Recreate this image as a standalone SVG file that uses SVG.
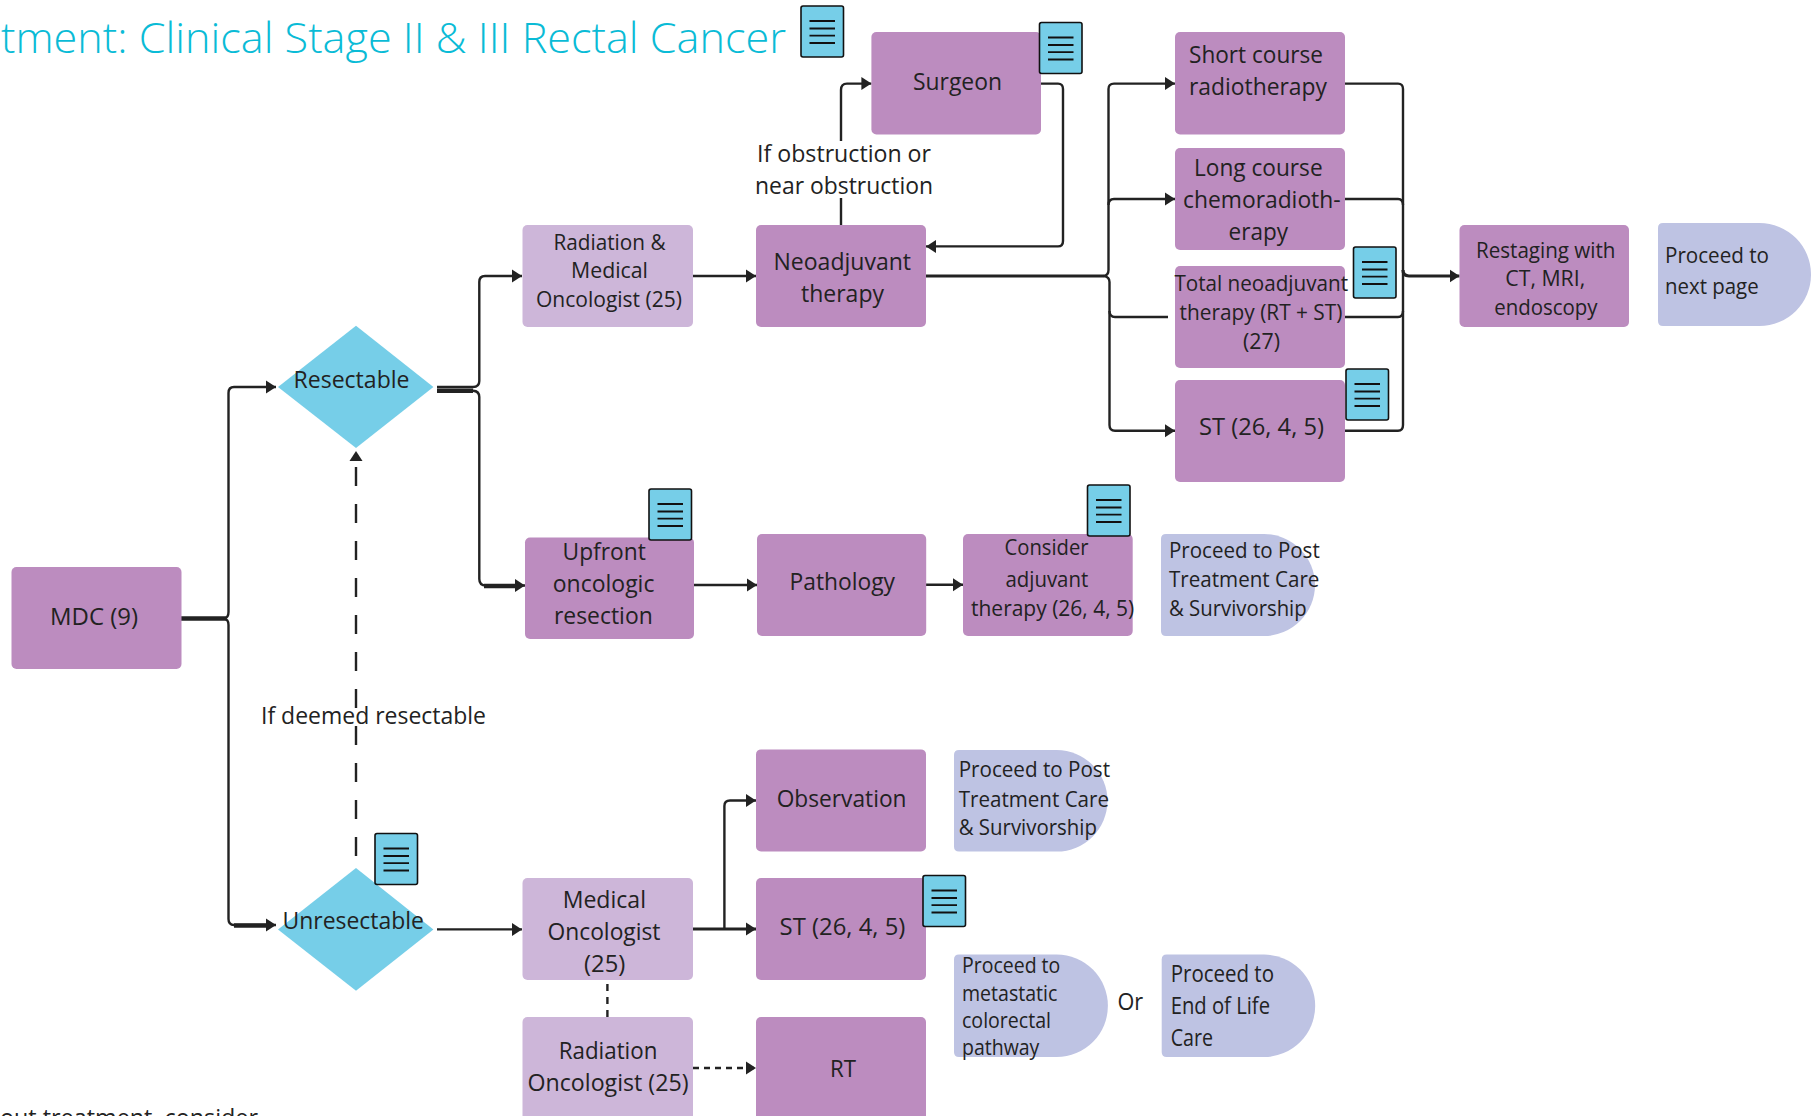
<svg xmlns="http://www.w3.org/2000/svg" xmlns:xlink="http://www.w3.org/1999/xlink" width="1813" height="1116" viewBox="0 0 1813 1116">
<style>
text{font-family:"Open Sans","Noto Sans","Liberation Sans",sans-serif;font-size:24px;fill:#222;}
.s{font-size:22px}
.title{font-size:42px;fill:#0ABBD6;font-weight:300}
.p{fill:#BC8CBF}
.l{fill:#CDB6D9}
.h{fill:#BEC3E3}
.d{fill:#76CEE8}
.c{fill:none;stroke:#222;stroke-width:2.4}
.t{fill:none;stroke:#222;stroke-width:4.5}
.ic{fill:#76CEE8;stroke:#111;stroke-width:1.6}
.il{stroke:#111;stroke-width:1.8;fill:none}
</style>
<defs>
<marker id="a" markerUnits="userSpaceOnUse" markerWidth="11" markerHeight="14" refX="10" refY="7" orient="auto"><path d="M0 0.500L10 7L0 13.500z" fill="#222"/></marker>
<g id="icon"><rect class="ic" x="0" y="0" width="42.500" height="51" rx="2"/><path class="il" d="M8.500 15H34M8.500 22.500H34M8.500 29.700H34M8.500 37H34"/></g>
</defs>
<g id="connectors">
<path class="t" d="M181 618.600H226"/>
<path class="c" d="M224 618.600Q228.500 618 228.500 612V393Q228.500 387 234 387H276" marker-end="url(#a)"/>
<path class="c" d="M224 618.600Q228.500 619 228.500 625V919Q228.500 925 234 925H276" marker-end="url(#a)"/>
<path class="t" d="M234 925.500H270"/>
<path class="c" d="M437 387H473Q479.300 387 479.300 381V282Q479.300 276 485 276H522" marker-end="url(#a)"/>
<path class="t" d="M437 390.700H473"/>
<path class="c" d="M470 390.700H473Q479.300 391 479.300 397V579Q479.300 585.500 486 585.500H525" marker-end="url(#a)"/>
<path class="t" d="M484 586H518"/>
<path class="c" d="M693 276H756" marker-end="url(#a)"/>
<path class="c" d="M841 225V198"/>
<path class="c" d="M841 141V90Q841 83.600 847 83.600H871.400" marker-end="url(#a)"/>
<path class="c" d="M1041 83.600H1058Q1063 83.600 1063 89V241Q1063 246.400 1058 246.400H926" marker-end="url(#a)"/>
<path class="c" d="M926 276H1104" style="stroke-width:3.200"/>
<path class="c" d="M1104 276Q1108.500 275 1108.500 270V89Q1108.500 83.600 1114 83.600H1175" marker-end="url(#a)"/>
<path class="c" d="M1108.500 205Q1108.500 199 1114 199H1175" marker-end="url(#a)"/>
<path class="c" d="M1104 276Q1109.500 277 1109.500 282V425Q1109.500 430.700 1115 430.700H1175" marker-end="url(#a)"/>
<path class="c" d="M1109.500 311Q1109.500 317 1115 317H1168"/>
<path class="c" d="M1345 83.600H1398Q1403 83.600 1403 89V425Q1403 430.700 1398 430.700H1345"/>
<path class="c" d="M1345 199H1398Q1403 199 1403 205"/>
<path class="c" d="M1345 317H1398Q1403 317 1403 311"/>
<path class="c" d="M1403 270Q1403 276 1409 276H1459.500" marker-end="url(#a)" style="stroke-width:3.200"/>
<path class="c" d="M694 585H757" marker-end="url(#a)"/>
<path class="c" d="M926 584.700H963" marker-end="url(#a)"/>
<path class="c" d="M437 929.400H522" marker-end="url(#a)"/>
<path class="c" d="M693 929H756" marker-end="url(#a)" style="stroke-width:3"/>
<path class="c" d="M724.400 929V806Q724.400 800.500 730 800.500H756" marker-end="url(#a)"/>
<path class="c" d="M607.400 984V1017" stroke-dasharray="7 6"/>
<path class="c" d="M693 1068H756" marker-end="url(#a)" stroke-dasharray="6 5"/>
<path class="c" d="M356 856V451" marker-end="url(#a)" stroke-dasharray="19 18"/>
</g>
<g id="title"><text class="title" x="1" y="53" textLength="785" lengthAdjust="spacingAndGlyphs">tment: Clinical Stage II &amp; III Rectal Cancer</text><use xlink:href="#icon" href="#icon" x="801" y="6"/></g>
<g id="mdc"><rect class="p" x="11.500" y="567" width="170" height="102" rx="5"/><text x="50" y="624.500" textLength="88" lengthAdjust="spacingAndGlyphs">MDC (9)</text></g>
<g id="resectable"><path class="d" d="M356 325.700L433.400 387L356 448L278 387z"/><text x="293.500" y="387.500" textLength="116" lengthAdjust="spacingAndGlyphs">Resectable</text></g>
<g id="unresectable"><path class="d" d="M356 868L433.400 929.500L356 990.800L278 929.500z"/><text x="282.500" y="928.700" textLength="141.500" lengthAdjust="spacingAndGlyphs">Unresectable</text><use xlink:href="#icon" href="#icon" x="375" y="833.500"/></g>
<g id="rad-med"><rect class="l" x="522.500" y="225" width="170.500" height="102" rx="5"/><text class="s" x="553.500" y="250" textLength="112" lengthAdjust="spacingAndGlyphs">Radiation &amp;</text><text class="s" x="571" y="278" textLength="77" lengthAdjust="spacingAndGlyphs">Medical</text><text class="s" x="536" y="307" textLength="146" lengthAdjust="spacingAndGlyphs">Oncologist (25)</text></g>
<g id="neoadjuvant"><rect class="p" x="756" y="225" width="170" height="102" rx="5"/><text x="773.500" y="269.600" textLength="137.500" lengthAdjust="spacingAndGlyphs">Neoadjuvant</text><text x="801" y="302" textLength="83" lengthAdjust="spacingAndGlyphs">therapy</text></g>
<g id="obstruction-label"><text x="757" y="161.500" textLength="174" lengthAdjust="spacingAndGlyphs">If obstruction or</text><text x="755" y="194" textLength="178" lengthAdjust="spacingAndGlyphs">near obstruction</text></g>
<g id="surgeon"><rect class="p" x="871.400" y="32" width="169.600" height="102.500" rx="5"/><text x="913" y="90" textLength="89" lengthAdjust="spacingAndGlyphs">Surgeon</text><use xlink:href="#icon" href="#icon" x="1039.500" y="22.500"/></g>
<g id="short-course"><rect class="p" x="1175" y="32" width="170" height="102.500" rx="5"/><text x="1189" y="63" textLength="134" lengthAdjust="spacingAndGlyphs">Short course</text><text x="1189" y="94.600" textLength="138" lengthAdjust="spacingAndGlyphs">radiotherapy</text></g>
<g id="long-course"><rect class="p" x="1175" y="148" width="170" height="102" rx="5"/><text x="1194" y="176" textLength="128.600" lengthAdjust="spacingAndGlyphs">Long course</text><text x="1183" y="208" textLength="157.600" lengthAdjust="spacingAndGlyphs">chemoradioth-</text><text x="1228.600" y="240" textLength="59.400" lengthAdjust="spacingAndGlyphs">erapy</text></g>
<g id="total-neoadjuvant"><rect class="p" x="1175" y="266" width="170" height="102" rx="5"/><text class="s" x="1174.400" y="291" textLength="173.600" lengthAdjust="spacingAndGlyphs">Total neoadjuvant</text><text class="s" x="1179.600" y="320" textLength="162.800" lengthAdjust="spacingAndGlyphs">therapy (RT + ST)</text><text class="s" x="1243" y="349" textLength="37" lengthAdjust="spacingAndGlyphs">(27)</text><use xlink:href="#icon" href="#icon" x="1353.500" y="247"/></g>
<g id="st-top"><rect class="p" x="1175" y="380" width="170" height="102" rx="5"/><text x="1199" y="435" textLength="125" lengthAdjust="spacingAndGlyphs">ST (26, 4, 5)</text><use xlink:href="#icon" href="#icon" x="1346" y="369"/></g>
<g id="restaging"><rect class="p" x="1459.500" y="225" width="169.500" height="102" rx="5"/><text class="s" x="1476" y="258" textLength="139.400" lengthAdjust="spacingAndGlyphs">Restaging with</text><text class="s" x="1505.300" y="286.400" textLength="79.900" lengthAdjust="spacingAndGlyphs">CT, MRI,</text><text class="s" x="1494.200" y="315" textLength="103.300" lengthAdjust="spacingAndGlyphs">endoscopy</text></g>
<g id="next-page"><path class="h" d="M1663 223H1759.500A51.500 51.500 0 0 1 1759.500 326H1663Q1658 326 1658 321V228Q1658 223 1663 223z"/><text class="s" x="1665" y="262.500" textLength="104" lengthAdjust="spacingAndGlyphs">Proceed to</text><text class="s" x="1665" y="294" textLength="93.600" lengthAdjust="spacingAndGlyphs">next page</text></g>
<g id="upfront"><rect class="p" x="525" y="537.500" width="169" height="101.500" rx="5"/><text x="562.600" y="560" textLength="83.200" lengthAdjust="spacingAndGlyphs">Upfront</text><text x="552.800" y="592" textLength="101.600" lengthAdjust="spacingAndGlyphs">oncologic</text><text x="554" y="623.800" textLength="98.700" lengthAdjust="spacingAndGlyphs">resection</text><use xlink:href="#icon" href="#icon" x="649" y="489"/></g>
<g id="pathology"><rect class="p" x="757" y="534" width="169.200" height="102" rx="5"/><text x="789.500" y="589.600" textLength="105.500" lengthAdjust="spacingAndGlyphs">Pathology</text></g>
<g id="consider"><rect class="p" x="963" y="534" width="169.700" height="102" rx="5"/><text class="s" x="1004.500" y="554.500" textLength="84" lengthAdjust="spacingAndGlyphs">Consider</text><text class="s" x="1005.500" y="586.500" textLength="82.700" lengthAdjust="spacingAndGlyphs">adjuvant</text><text class="s" x="971" y="615.500" textLength="163.300" lengthAdjust="spacingAndGlyphs">therapy (26, 4, 5)</text><use xlink:href="#icon" href="#icon" x="1087.500" y="485"/></g>
<g id="post-care-1"><path class="h" d="M1166 534H1264A51 51 0 0 1 1264 636H1166Q1161 636 1161 631V539Q1161 534 1166 534z"/><text class="s" x="1169" y="558" textLength="150.700" lengthAdjust="spacingAndGlyphs">Proceed to Post</text><text class="s" x="1169" y="587" textLength="150.400" lengthAdjust="spacingAndGlyphs">Treatment Care</text><text class="s" x="1169" y="616" textLength="137.700" lengthAdjust="spacingAndGlyphs">&amp; Survivorship</text></g>
<g id="deemed-label"><text x="261" y="723.700" textLength="225" lengthAdjust="spacingAndGlyphs">If deemed resectable</text></g>
<g id="observation"><rect class="p" x="756" y="749.400" width="170" height="102" rx="5"/><text x="776.700" y="807" textLength="129.800" lengthAdjust="spacingAndGlyphs">Observation</text></g>
<g id="post-care-2"><path class="h" d="M959 750H1056.700A50.800 50.800 0 0 1 1056.700 851.600H959Q954 851.600 954 846.600V755Q954 750 959 750z"/><text class="s" x="958.700" y="777.400" textLength="151.300" lengthAdjust="spacingAndGlyphs">Proceed to Post</text><text class="s" x="958.700" y="806.600" textLength="150.300" lengthAdjust="spacingAndGlyphs">Treatment Care</text><text class="s" x="958.700" y="835.400" textLength="138.300" lengthAdjust="spacingAndGlyphs">&amp; Survivorship</text></g>
<g id="medical-oncologist"><rect class="l" x="522.500" y="878" width="170.500" height="102" rx="5"/><text x="562.700" y="908" textLength="83.300" lengthAdjust="spacingAndGlyphs">Medical</text><text x="547.500" y="940.400" textLength="113" lengthAdjust="spacingAndGlyphs">Oncologist</text><text x="584" y="972" textLength="41.300" lengthAdjust="spacingAndGlyphs">(25)</text></g>
<g id="st-low"><rect class="p" x="756" y="878" width="170" height="102" rx="5"/><text x="779.600" y="935" textLength="125.800" lengthAdjust="spacingAndGlyphs">ST (26, 4, 5)</text><use xlink:href="#icon" href="#icon" x="923" y="875.500"/></g>
<g id="metastatic"><path class="h" d="M959 954.600H1056.700A51.200 51.200 0 0 1 1056.700 1057H959Q954 1057 954 1052V959.600Q954 954.600 959 954.600z"/><text class="s" x="962" y="973.300" textLength="98.300" lengthAdjust="spacingAndGlyphs">Proceed to</text><text class="s" x="962" y="1000.500" textLength="95.300" lengthAdjust="spacingAndGlyphs">metastatic</text><text class="s" x="962" y="1028" textLength="89" lengthAdjust="spacingAndGlyphs">colorectal</text><text class="s" x="962" y="1055" textLength="77.300" lengthAdjust="spacingAndGlyphs">pathway</text></g>
<g id="or-label"><text x="1117.500" y="1010" textLength="25.700" lengthAdjust="spacingAndGlyphs">Or</text></g>
<g id="end-of-life"><path class="h" d="M1166.700 954.600H1264A51.200 51.200 0 0 1 1264 1057H1166.700Q1161.700 1057 1161.700 1052V959.600Q1161.700 954.600 1166.700 954.600z"/><text x="1170.700" y="982" textLength="103.300" lengthAdjust="spacingAndGlyphs">Proceed to</text><text x="1170.700" y="1014" textLength="99.300" lengthAdjust="spacingAndGlyphs">End of Life</text><text x="1170.700" y="1046" textLength="42.300" lengthAdjust="spacingAndGlyphs">Care</text></g>
<g id="radiation-oncologist"><rect class="l" x="522.500" y="1017" width="170.500" height="110" rx="5"/><text x="558.700" y="1059" textLength="98.700" lengthAdjust="spacingAndGlyphs">Radiation</text><text x="527.500" y="1091" textLength="161" lengthAdjust="spacingAndGlyphs">Oncologist (25)</text></g>
<g id="rt"><rect class="p" x="756" y="1017" width="170" height="110" rx="5"/><text x="830" y="1077" textLength="26" lengthAdjust="spacingAndGlyphs">RT</text></g>
<g id="footer-text"><text x="0" y="1126" textLength="258" lengthAdjust="spacingAndGlyphs">out treatment, consider</text></g>
</svg>
